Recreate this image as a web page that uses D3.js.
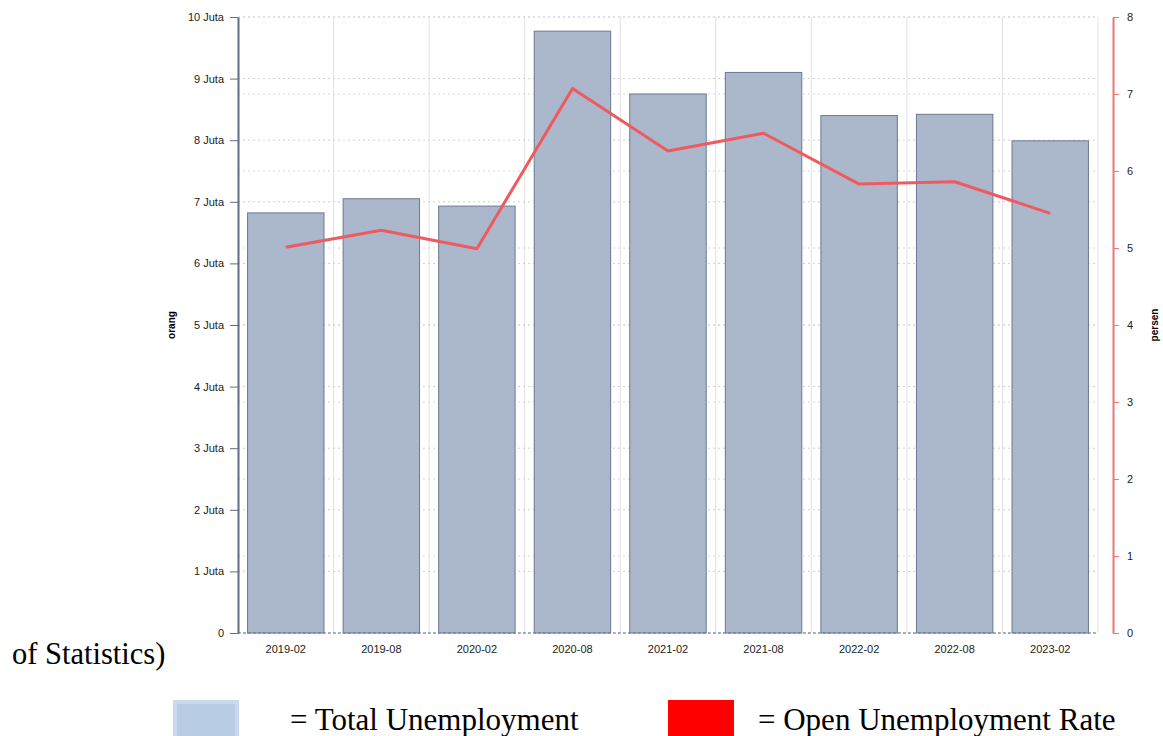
<!DOCTYPE html>
<html lang="en">
<head>
<meta charset="UTF-8" />
<title>Unemployment chart</title>
<script src="https://d3js.org/d3.v7.min.js"></script>
<style>
    body { margin: 0; background: #fff; }
    .axis text { font-family: "Liberation Sans", Arial, sans-serif; font-size: 11px; fill: #222; }
    .legend-text { font-family: "Liberation Serif", "Times New Roman", serif; fill: #000; }
</style>
</head>
<body>
<script>
    const periods = ['2019-02', '2019-08', '2020-02', '2020-08', '2021-02', '2021-08', '2022-02', '2022-08', '2023-02'];
    const totalUnemployment = [6.82, 7.05, 6.93, 9.77, 8.75, 9.10, 8.40, 8.42, 7.99]; // juta orang
    const openRate = [5.01, 5.23, 4.99, 7.07, 6.26, 6.49, 5.83, 5.86, 5.45]; // persen
    const leftTicks = [0, 1, 2, 3, 4, 5, 6, 7, 8, 9, 10];
    const rightTicks = [0, 1, 2, 3, 4, 5, 6, 7, 8];

    const w = 1163, h = 736;
    const plotLeft = 238, plotRight = 1098, plotTop = 17, plotBottom = 633;
    const rightAxisX = 1113;

    const svg = d3.select('body').append('svg')
        .attr('width', w)
        .attr('height', h);

    const x = d3.scaleBand().domain(periods).range([plotLeft, plotRight]).paddingInner(0.2).paddingOuter(0.1);
    const yL = d3.scaleLinear().domain([0, 10]).range([plotBottom, plotTop]);
    const yR = d3.scaleLinear().domain([0, 8]).range([plotBottom, plotTop]);

    // vertical grid at band boundaries
    const step = (plotRight - plotLeft) / periods.length;
    svg.append('g').selectAll('line')
        .data(periods)
        .enter().append('line')
        .attr('x1', (d, i) => plotLeft + step * (i + 1))
        .attr('x2', (d, i) => plotLeft + step * (i + 1))
        .attr('y1', plotTop)
        .attr('y2', plotBottom)
        .attr('stroke', '#e2e2e2')
        .attr('stroke-width', 1);

    // horizontal dotted grids (both axes)
    svg.append('g').selectAll('line')
        .data(leftTicks)
        .enter().append('line')
        .attr('x1', plotLeft).attr('x2', plotRight)
        .attr('y1', d => yL(d)).attr('y2', d => yL(d))
        .attr('stroke', '#cfcfcf')
        .attr('stroke-dasharray', '2,3');

    svg.append('g').selectAll('line')
        .data(rightTicks)
        .enter().append('line')
        .attr('x1', plotLeft).attr('x2', plotRight)
        .attr('y1', d => yR(d)).attr('y2', d => yR(d))
        .attr('stroke', '#d8d8d8')
        .attr('stroke-dasharray', '2,3');

    // bars
    svg.append('g').selectAll('rect')
        .data(totalUnemployment)
        .enter().append('rect')
        .attr('x', (d, i) => x(periods[i]))
        .attr('y', d => yL(d))
        .attr('width', x.bandwidth())
        .attr('height', d => plotBottom - yL(d))
        .attr('fill', '#abb8cb')
        .attr('stroke', '#6a7a90')
        .attr('stroke-width', 1);

    // baseline
    svg.append('line')
        .attr('x1', plotLeft).attr('x2', plotRight)
        .attr('y1', plotBottom).attr('y2', plotBottom)
        .attr('stroke', '#6a7a90')
        .attr('stroke-dasharray', '3,2');

    // rate line
    const line = d3.line()
        .x((d, i) => x(periods[i]) + x.bandwidth() / 2)
        .y(d => yR(d));

    svg.append('path')
        .datum(openRate)
        .attr('d', line)
        .attr('fill', 'none')
        .attr('stroke', '#ef5a60')
        .attr('stroke-width', 3)
        .attr('stroke-linejoin', 'round');

    // left axis
    const leftAxis = svg.append('g')
        .attr('class', 'axis')
        .attr('transform', `translate(${plotLeft},0)`)
        .call(d3.axisLeft(yL).tickValues(leftTicks).tickSize(8).tickSizeOuter(0).tickPadding(6)
            .tickFormat(d => d === 0 ? '0' : d + ' Juta'));
    leftAxis.select('.domain').attr('stroke', '#5d6d82').attr('stroke-width', 2);
    leftAxis.selectAll('.tick line').attr('stroke', '#5d6d82');

    // right axis
    const rightAxis = svg.append('g')
        .attr('class', 'axis')
        .attr('transform', `translate(${rightAxisX},0)`)
        .call(d3.axisRight(yR).tickValues(rightTicks).tickSize(6).tickSizeOuter(0).tickPadding(8));
    rightAxis.select('.domain').attr('stroke', '#e87878').attr('stroke-width', 2);
    rightAxis.selectAll('.tick line').attr('stroke', '#e87878');

    // x labels
    svg.append('g').attr('class', 'axis').selectAll('text')
        .data(periods)
        .enter().append('text')
        .attr('x', d => x(d) + x.bandwidth() / 2)
        .attr('y', 653)
        .attr('text-anchor', 'middle')
        .text(d => d);

    // axis titles
    svg.append('text')
        .attr('transform', 'translate(175,325) rotate(-90)')
        .attr('text-anchor', 'middle')
        .style('font-family', 'Liberation Sans, Arial, sans-serif')
        .style('font-size', '10px')
        .style('font-weight', 'bold')
        .text('orang');

    svg.append('text')
        .attr('transform', 'translate(1158,325) rotate(-90)')
        .attr('text-anchor', 'middle')
        .style('font-family', 'Liberation Sans, Arial, sans-serif')
        .style('font-size', '10px')
        .style('font-weight', 'bold')
        .text('persen');

    // leftover caption fragment
    svg.append('text')
        .attr('class', 'legend-text')
        .attr('x', 12)
        .attr('y', 664)
        .style('font-size', '30.5px')
        .text('of Statistics)');

    // legend
    const legendItems = [
        { name: '= Total Unemployment', fill: '#b8cce4', stroke: '#c9daf0', sx: 175, tx: 290 },
        { name: '= Open Unemployment Rate', fill: '#ff0000', stroke: '#ff0000', sx: 670, tx: 758 }
    ];

    const legend = svg.selectAll('.legend')
        .data(legendItems)
        .enter().append('g')
        .attr('class', 'legend');

    legend.append('rect')
        .attr('x', d => d.sx)
        .attr('y', 702)
        .attr('width', 62)
        .attr('height', 40)
        .attr('fill', d => d.fill)
        .attr('stroke', d => d.stroke)
        .attr('stroke-width', 4);

    legend.append('text')
        .attr('class', 'legend-text')
        .attr('x', d => d.tx)
        .attr('y', 730)
        .style('font-size', '31px')
        .text(d => d.name);
</script>
</body>
</html>
